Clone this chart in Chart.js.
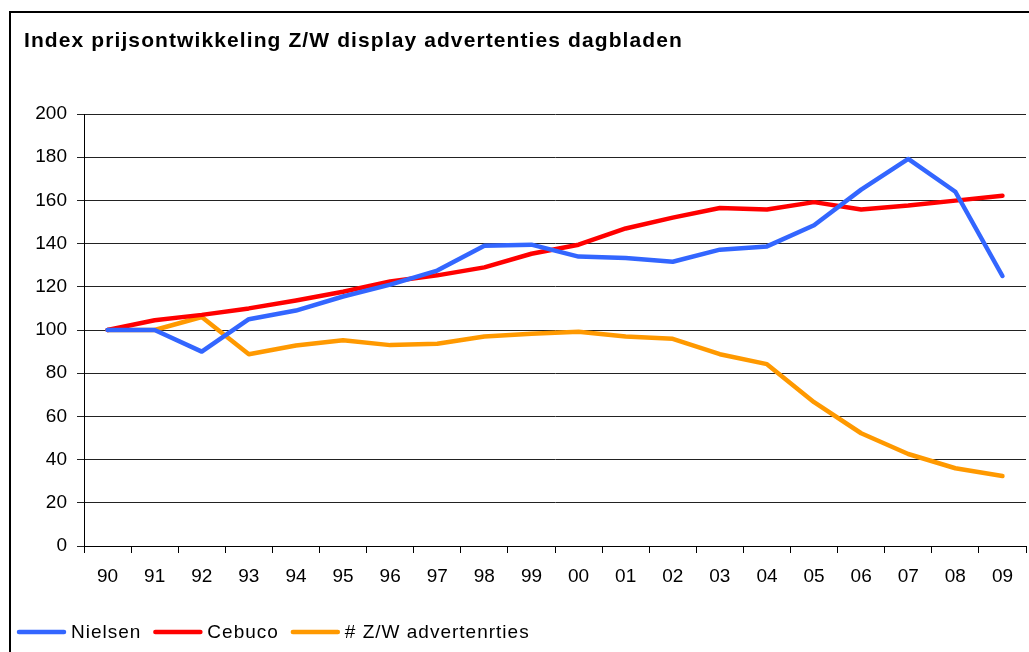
<!DOCTYPE html>
<html>
<head>
<meta charset="utf-8">
<script src="https://cdn.jsdelivr.net/npm/chart.js@4.4.1/dist/chart.umd.min.js"></script>
<style>
  html, body { margin: 0; padding: 0; background: #ffffff; }
  #wrap { position: relative; width: 1029px; height: 652px; }
</style>
</head>
<body>
<div id="wrap"><canvas id="c" width="1029" height="652"></canvas></div>
<script>
const titleText = 'Index prijsontwikkeling Z/W display advertenties dagbladen';
const categories = ['90','91','92','93','94','95','96','97','98','99','00','01','02','03','04','05','06','07','08','09'];
const nielsen = [100, 100, 90, 105, 109, 115.5, 121, 127.5, 139, 139.5, 134, 133.3, 131.6, 137.2, 138.7, 148.5, 165, 179.2, 164, 125];
const cebuco  = [100, 104.5, 107, 110, 113.7, 117.7, 122.5, 125.3, 129, 135.3, 139.5, 147, 152, 156.5, 155.8, 159.2, 155.8, 157.6, 159.9, 162.2];
const zwAds   = [100, 100, 106, 88.8, 92.8, 95.3, 93, 93.6, 97, 98.3, 99.2, 97, 95.9, 88.8, 84.2, 66.6, 52.2, 42.6, 36, 32.4];
const seriesNames = ['Nielsen', 'Cebuco', '# Z/W advertenrties'];
const seriesColors = ['#3366FF', '#FF0000', '#FF9900'];
const yTicks = { min: 0, max: 200, step: 20 };

const FONT = '"Liberation Sans", Arial, sans-serif';

const frameAndText = {
  id: 'frameAndText',
  afterDraw(chart) {
    const ctx = chart.ctx;
    ctx.save();
    // outer frame
    ctx.strokeStyle = '#000';
    ctx.lineWidth = 2;
    ctx.strokeRect(10, 12, 1100, 1000);
    // title
    ctx.fillStyle = '#000';
    ctx.font = 'bold 21px ' + FONT;
    ctx.letterSpacing = '1.1px';
    ctx.textBaseline = 'middle';
    ctx.textAlign = 'left';
    ctx.fillText(titleText, 24, 41);
    // legend
    ctx.font = '19px ' + FONT;
    ctx.letterSpacing = '1px';
    let x = 17;
    const y = 632;
    chart.data.datasets.forEach((ds) => {
      ctx.strokeStyle = ds.borderColor;
      ctx.lineWidth = 4.5;
      ctx.lineCap = 'round';
      ctx.beginPath();
      ctx.moveTo(x + 2, y);
      ctx.lineTo(x + 47, y);
      ctx.stroke();
      ctx.fillStyle = '#000';
      ctx.fillText(ds.label, x + 54, y + 1);
      x += 54 + ctx.measureText(ds.label).width + 12;
    });
    ctx.restore();
  }
};

new Chart(document.getElementById('c'), {
  type: 'line',
  data: {
    labels: categories,
    datasets: [nielsen, cebuco, zwAds].map((d, i) => ({
      label: seriesNames[i],
      data: d,
      borderColor: seriesColors[i],
      backgroundColor: seriesColors[i],
      borderWidth: 4.5,
      pointRadius: 0,
      tension: 0,
      borderCapStyle: 'round',
      borderJoinStyle: 'round'
    }))
  },
  options: {
    responsive: false,
    animation: false,
    layout: { padding: { left: 0, right: 3, top: 114, bottom: 66 } },
    plugins: {
      legend: { display: false },
      title: { display: false },
      tooltip: { enabled: false }
    },
    scales: {
      x: {
        offset: true,
        afterFit(s) { s.height = 40; },
        border: { color: '#000', width: 1 },
        grid: { display: true, offset: true, drawOnChartArea: false, drawTicks: true, tickLength: 7, color: '#000' },
        ticks: { color: '#000', font: { family: FONT, size: 19 }, padding: 12, maxRotation: 0, autoSkip: false }
      },
      y: {
        min: yTicks.min, max: yTicks.max,
        afterFit(s) { s.width = 84; },
        border: { color: '#000', width: 1 },
        grid: { color: '#222', lineWidth: 1, drawTicks: true, tickLength: 7 },
        ticks: { stepSize: yTicks.step, color: '#000', font: { family: FONT, size: 19 }, padding: 10 }
      }
    }
  },
  plugins: [frameAndText]
});
</script>
</body>
</html>
